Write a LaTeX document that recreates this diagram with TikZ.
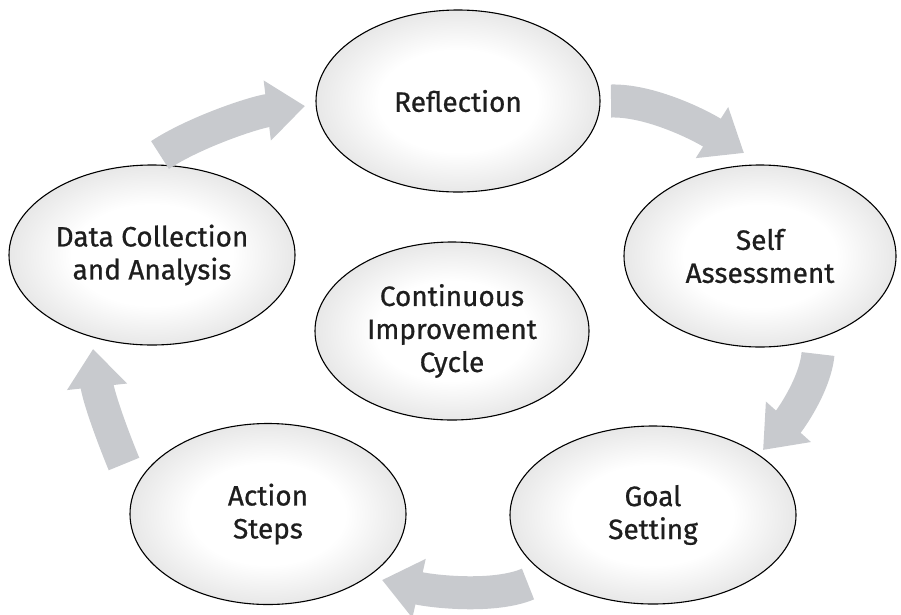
\documentclass[tikz,border=0pt]{standalone}
\usepackage{fontspec}
\setmainfont{Fira Sans}
\newfontfamily\stagefont[FakeBold=0.7]{Fira Sans}
\usetikzlibrary{shapes.geometric,arrows.meta}
\pgfdeclareradialshading{ellshade}{\pgfpoint{0bp}{0bp}}{color(0bp)=(white); color(14bp)=(white); color(50bp)=(black!30)}
\definecolor{arrowgray}{RGB}{200,202,206}
\definecolor{txt}{RGB}{30,30,30}
\begin{document}
\begin{tikzpicture}[x=1pt,y=-1pt,
  stage/.style={ellipse, draw=black, line width=1.1pt, shading=ellshade, inner sep=0pt, align=center, font=\stagefont\fontsize{28}{33}\selectfont, text=txt},
  flow/.style={draw=arrowgray, line width=33pt, -{Triangle[length=38pt,width=58pt]}}]
\path[use as bounding box] (0,0) rectangle (901,614);

\node[stage, minimum width=284pt, minimum height=182pt] (refl) at (458,101) {Reflection};
\node[stage, minimum width=272pt, minimum height=182pt] (self) at (760,256) {Self\\Assessment};
\node[stage, minimum width=286pt, minimum height=178pt] (goal) at (653,515) {Goal\\Setting};
\node[stage, minimum width=276pt, minimum height=181pt] (act) at (268,514) {Action\\Steps};
\node[stage, minimum width=286pt, minimum height=180pt] (data) at (152,255) {Data Collection\\and Analysis};
\node[stage, minimum width=274pt, minimum height=178pt] (cic) at (452,331) {Continuous\\Improvement\\Cycle};

\coordinate (a1s) at (160,155); \coordinate (a1e) at (305,106);
\coordinate (a2s) at (611,101); \coordinate (a2e) at (744,153);
\coordinate (a3s) at (818,354); \coordinate (a3e) at (763,450);
\coordinate (a4s) at (528,584); \coordinate (a4e) at (382,580);
\coordinate (a5s) at (124,464); \coordinate (a5e) at (93,349);

\draw[flow] (a1s) .. controls (195,132) and (255,112) .. (a1e);
\draw[flow] (a2s) .. controls (650,100) and (700,125) .. (a2e);
\draw[flow] (a3s) .. controls (815,385) and (790,420) .. (a3e);
\draw[flow] (a4s) .. controls (495,598) and (435,592) .. (a4e);
\draw[flow] (a5s) .. controls (110,430) and (98,395) .. (a5e);
\end{tikzpicture}
\end{document}
